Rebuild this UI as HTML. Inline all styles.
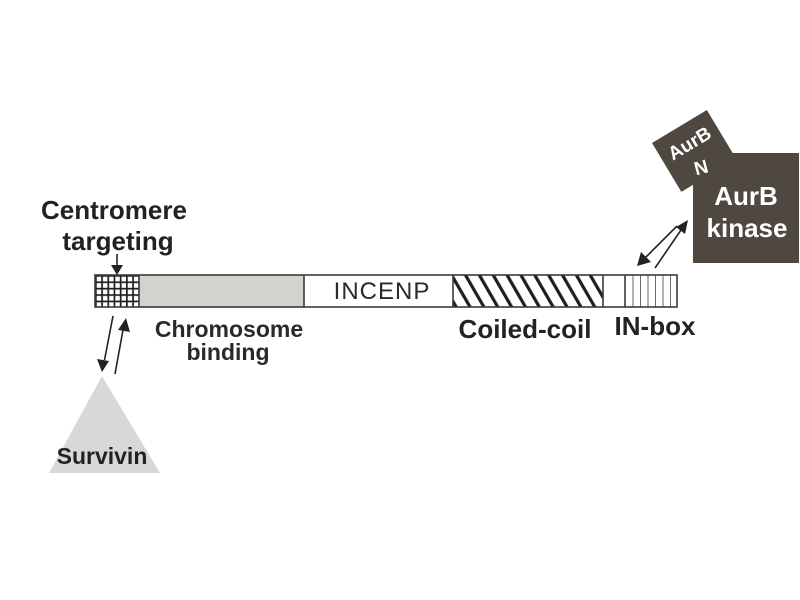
<!DOCTYPE html>
<html>
<head>
<meta charset="utf-8">
<style>
  html, body { margin:0; padding:0; background:#ffffff; }
  svg { display:block; }
  text { font-family: "Liberation Sans", Arial, sans-serif; }
</style>
</head>
<body>
<svg width="800" height="600" viewBox="0 0 800 600" xmlns="http://www.w3.org/2000/svg">
  <defs>
    <pattern id="grid" patternUnits="userSpaceOnUse" x="95" y="275" width="6.2" height="6.4">
      <rect width="6.2" height="6.4" fill="#ffffff"/>
      <rect x="0" y="0" width="1.7" height="6.4" fill="#1e1e1e"/>
      <rect x="0" y="0" width="6.2" height="1.7" fill="#1e1e1e"/>
    </pattern>
    <pattern id="hatch" patternUnits="userSpaceOnUse" width="12" height="12" patternTransform="rotate(-30)">
      <rect width="12" height="12" fill="#ffffff"/>
      <rect x="0" y="0" width="3.2" height="12" fill="#1e1e1e"/>
    </pattern>
  </defs>

  <!-- Bar segments -->
  <rect x="95" y="275" width="44" height="32" fill="url(#grid)"/>
  <rect x="139" y="275" width="165" height="32" fill="#d4d2cf"/>
  <rect x="304" y="275" width="149" height="32" fill="#ffffff"/>
  <rect x="453" y="275" width="150" height="32" fill="url(#hatch)"/>
  <rect x="603" y="275" width="22" height="32" fill="#ffffff"/>
  <rect x="625" y="275" width="52" height="32" fill="#ffffff"/>
  <g stroke="#6a6a6a" stroke-width="1">
    <line x1="633" y1="275" x2="633" y2="307"/>
    <line x1="640.5" y1="275" x2="640.5" y2="307"/>
    <line x1="648" y1="275" x2="648" y2="307"/>
    <line x1="655.5" y1="275" x2="655.5" y2="307"/>
    <line x1="663" y1="275" x2="663" y2="307"/>
    <line x1="670.5" y1="275" x2="670.5" y2="307"/>
  </g>
  <!-- bar outline and dividers -->
  <g stroke="#3a3a3a" stroke-width="1.6" fill="none">
    <rect x="95" y="275" width="582" height="32"/>
    <line x1="139" y1="275" x2="139" y2="307"/>
    <line x1="304" y1="275" x2="304" y2="307"/>
    <line x1="453" y1="275" x2="453" y2="307"/>
    <line x1="603" y1="275" x2="603" y2="307"/>
    <line x1="625" y1="275" x2="625" y2="307"/>
  </g>

  <text x="382" y="299" font-size="24" letter-spacing="1" text-anchor="middle" fill="#2a2a2a">INCENP</text>

  <!-- Labels -->
  <text x="114" y="219" font-size="26" font-weight="bold" text-anchor="middle" fill="#222">Centromere</text>
  <text x="118" y="250" font-size="26" font-weight="bold" text-anchor="middle" fill="#222">targeting</text>
  <text x="229" y="337" font-size="23" font-weight="bold" text-anchor="middle" fill="#2a2a2a">Chromosome</text>
  <text x="228" y="360" font-size="23" font-weight="bold" text-anchor="middle" fill="#2a2a2a">binding</text>
  <text x="525" y="338" font-size="26" font-weight="bold" text-anchor="middle" fill="#222">Coiled-coil</text>
  <text x="655" y="335" font-size="26" font-weight="bold" text-anchor="middle" fill="#222">IN-box</text>

  <!-- Centromere arrow -->
  <line x1="117" y1="254" x2="117" y2="266" stroke="#222" stroke-width="1.6"/>
  <polygon points="111,265 123,265 117,275" fill="#222"/>

  <!-- Survivin triangle -->
  <polygon points="102,376 49,473 160,473" fill="#d8d8d6"/>
  <text x="102" y="464" font-size="23" font-weight="bold" text-anchor="middle" fill="#222">Survivin</text>

  <!-- Survivin arrows -->
  <line x1="113" y1="316" x2="104.5" y2="360" stroke="#222" stroke-width="1.6"/>
  <polygon points="97,359 109,361 102,372" fill="#222"/>
  <line x1="115" y1="374" x2="123" y2="330" stroke="#222" stroke-width="1.6"/>
  <polygon points="118,330 130,332 126,318" fill="#222"/>

  <!-- AurB N rotated box -->
  <g transform="translate(652,143) rotate(-31)">
    <rect x="0" y="0" width="64" height="57" fill="#4f4841"/>
    <text x="32" y="26" font-size="19" font-weight="bold" text-anchor="middle" fill="#ffffff">AurB</text>
  </g>
  <!-- AurB kinase box -->
  <rect x="693" y="153" width="106" height="110" fill="#4f4841"/>
  <text x="701" y="174" font-size="19" font-weight="bold" text-anchor="middle" fill="#ffffff" transform="rotate(-15 701 167)">N</text>
  <text x="746" y="205" font-size="26" font-weight="bold" text-anchor="middle" fill="#ffffff">AurB</text>
  <text x="747" y="237" font-size="26" font-weight="bold" text-anchor="middle" fill="#ffffff">kinase</text>

  <!-- IN-box arrows -->
  <line x1="677" y1="226" x2="645" y2="258" stroke="#222" stroke-width="1.6"/>
  <polygon points="637,266 641,252 651,262" fill="#222"/>
  <line x1="655" y1="268" x2="681" y2="230" stroke="#222" stroke-width="1.6"/>
  <polygon points="688,220 676,227 685,234" fill="#222"/>
</svg>
</body>
</html>
